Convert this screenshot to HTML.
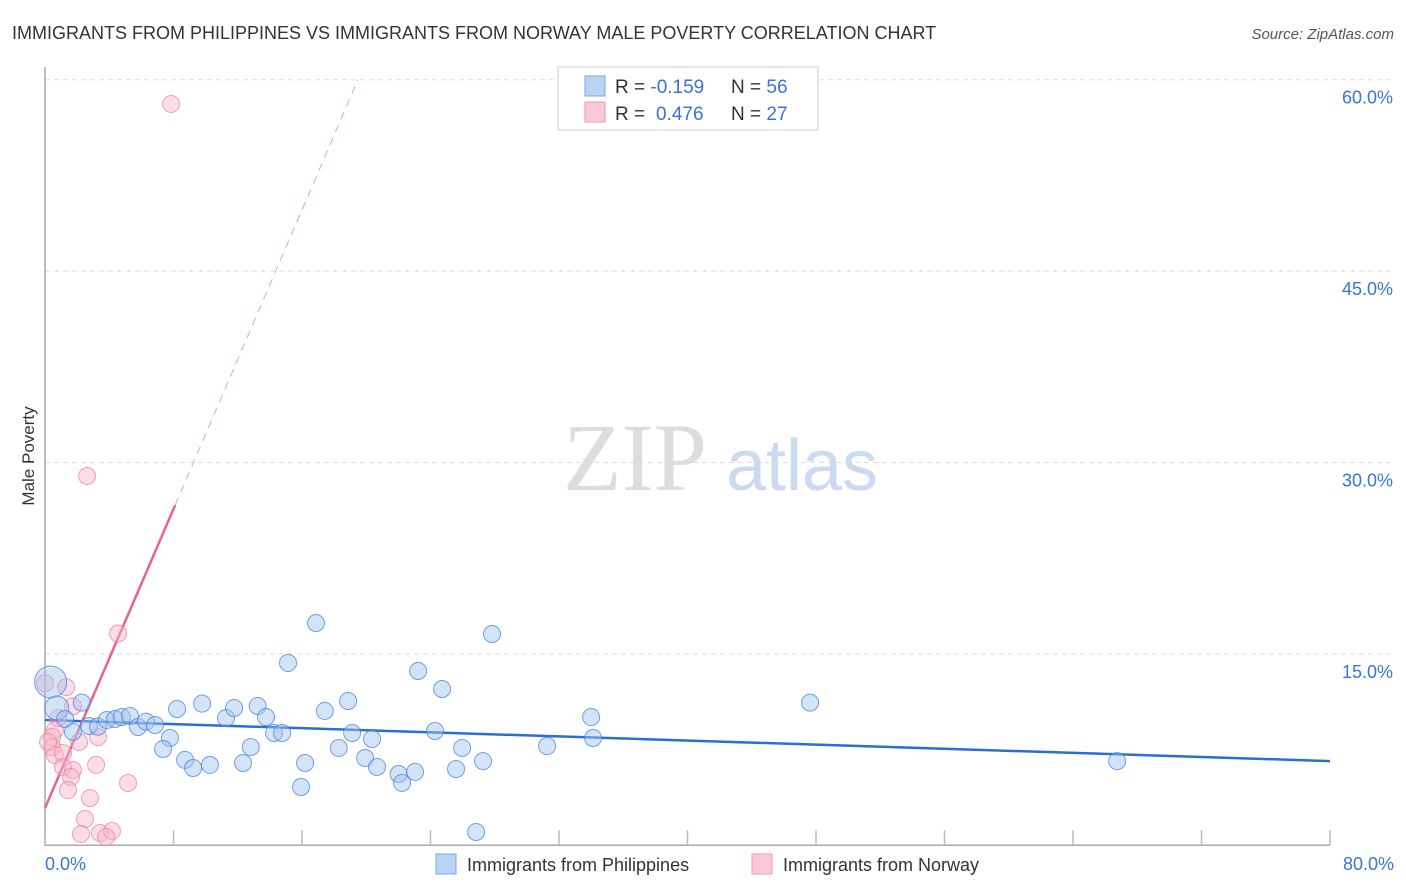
<!DOCTYPE html>
<html><head><meta charset="utf-8"><style>
body{margin:0;background:#fff;width:1406px;height:892px;overflow:hidden;font-family:"Liberation Sans",sans-serif}
</style></head><body>
<svg id="chart" width="1406" height="892" xmlns="http://www.w3.org/2000/svg" style="position:absolute;left:0;top:0">
<text x="12" y="39" font-size="18" fill="#333">IMMIGRANTS FROM PHILIPPINES VS IMMIGRANTS FROM NORWAY MALE POVERTY CORRELATION CHART</text>
<text x="1394" y="39" font-size="15" fill="#555" font-style="italic" text-anchor="end">Source: ZipAtlas.com</text>
<text transform="translate(34,456) rotate(-90)" font-size="17" fill="#333" text-anchor="middle">Male Poverty</text>
<g>
<text x="635" y="490" font-size="96" font-family="Liberation Serif,serif" fill="#ddd" text-anchor="middle">ZIP</text>
<text x="802" y="490" font-size="72" fill="#c9daf2" text-anchor="middle">atlas</text>
</g>
<g id="grid"></g><g id="axes"></g><g id="lines"></g><g id="pts"></g>
<g>
<rect x="558" y="67" width="260" height="63" fill="#fff" stroke="#ccc"/>
<rect x="585" y="76" width="20" height="20" fill="#b9d3f5" stroke="#7aa6e6"/>
<rect x="585" y="102" width="20" height="20" fill="#fcc8d7" stroke="#ee9ab3"/>
<text x="615" y="93" font-size="19" fill="#333">R = <tspan fill="#3a74d6">-0.159</tspan><tspan x="731">N = </tspan><tspan fill="#3a74d6">56</tspan></text>
<text x="615" y="120" font-size="19" fill="#333">R = <tspan fill="#3a74d6" x="656">0.476</tspan><tspan x="731">N = </tspan><tspan fill="#3a74d6">27</tspan></text>
</g>
<g>
<rect x="436" y="854" width="20" height="20" fill="#b9d3f5" stroke="#7aa6e6"/>
<text x="467" y="871" font-size="18" fill="#333">Immigrants from Philippines</text>
<rect x="752" y="854" width="20" height="20" fill="#fcc8d7" stroke="#ee9ab3"/>
<text x="783" y="871" font-size="18" fill="#333">Immigrants from Norway</text>
</g>
</svg>
<script>
const xTicks=[0,8,16,24,32,40,48,56,64,72,80];
const yTicks=[15,30,45,60];
const blueX=[0.35,0.73,2.29,1.25,1.74,2.74,3.3,3.84,4.36,4.78,5.29,5.79,6.29,6.85,7.78,7.35,8.22,8.72,9.22,10.27,9.78,11.27,11.77,12.33,12.81,13.24,13.76,14.26,14.76,15.13,16.87,16.19,15.94,17.42,18.29,18.87,19.12,20.36,19.93,20.67,22.02,22.23,23.04,23.23,24.28,24.72,25.97,25.59,26.84,27.27,27.83,31.26,34.0,34.12,47.63,66.75];
const blueY=[12.8,10.76,11.18,9.9,8.9,9.35,9.3,9.82,9.9,10.05,10.13,9.27,9.69,9.43,8.41,7.55,10.68,6.69,6.06,6.3,11.1,9.98,10.76,6.45,7.7,10.92,10.05,8.8,8.8,14.29,17.42,6.45,4.57,10.53,7.63,11.31,8.8,8.33,6.84,6.14,5.59,4.89,5.75,13.66,8.96,12.25,7.63,5.98,1.04,6.6,16.56,7.78,10.05,8.41,11.18,6.6];
const pinkX=[7.85,2.62,4.55,1.31,1.74,0.81,0.62,0.44,0.44,0.62,1.12,2.12,3.3,1.12,1.74,1.62,3.18,1.43,5.17,2.8,2.49,2.24,3.42,4.17,3.8,0,0.19];
const pinkY=[58.1,28.94,16.6,12.4,10.9,9.97,9.04,8.49,7.7,7.08,7.23,8.1,8.49,6.14,5.9,5.35,6.3,4.33,4.88,3.7,2.06,0.89,0.96,1.12,0.65,12.7,8.1];
const blueTrend=[9.82,6.6];
const pinkTrend=[2.92,2.93];
const X=v=>45+v*16.0625, Y=v=>845.3-v*12.76;
const NS='http://www.w3.org/2000/svg';
function mk(p,t,a){const e=document.createElementNS(NS,t);for(const k in a)e.setAttribute(k,a[k]);p.appendChild(e);return e;}
const grid=document.getElementById('grid'),axes=document.getElementById('axes'),lines=document.getElementById('lines'),pts=document.getElementById('pts');
yTicks.forEach(v=>{
 const l=mk(grid,'line',{x1:45,x2:1395,y1:Y(v),y2:Y(v),stroke:'#ddd','stroke-dasharray':'5,4'});
 
 
 const t=mk(grid,'text',{x:1393,y:Y(v)+24,'font-size':18,fill:'#3a74d6','text-anchor':'end'});
 t.textContent=v.toFixed(1)+'%';
 
 
});
const ax=mk(axes,'path',{d:`M45 67V${Y(0)}H${X(80)}`,stroke:'#aaa',fill:'none','stroke-width':1.5});


xTicks.forEach(v=>{
 const l=mk(axes,'line',{x1:X(v),x2:X(v),y1:Y(0),y2:Y(0)-15,stroke:'#bbb','stroke-width':1.5});
 
 
});
[[0,'start',45],[80,'end',1394]].forEach(([v,a,x])=>{
 const t=mk(axes,'text',{x:x,y:870,'font-size':18,fill:'#3a74d6','text-anchor':a});
 t.textContent=v.toFixed(1)+'%';
 
 
});
pinkX.forEach((x,i)=>{
 const c=mk(pts,'circle',{cx:X(x),cy:Y(pinkY[i]),r:8.5,fill:'rgba(248,180,200,0.45)',stroke:'rgba(235,130,160,0.75)','stroke-width':1});
 
 
});
blueX.forEach((x,i)=>{
 const r=i==0?16:(i==1?12:8.5);
 const c=mk(pts,'circle',{cx:X(x),cy:Y(blueY[i]),r:r,fill:'rgba(160,195,240,0.45)',stroke:'rgba(70,130,220,0.75)','stroke-width':1});
 
 
});
const bl=mk(lines,'line',{x1:X(0),y1:Y(blueTrend[0]),x2:X(80),y2:Y(blueTrend[1]),stroke:'#2a6fd6','stroke-width':2.5});


const pEnd=8.1, pTop=(60-pinkTrend[0])/pinkTrend[1];
const ps=mk(lines,'line',{x1:X(0),y1:Y(pinkTrend[0]),x2:X(pEnd),y2:Y(pinkTrend[0]+pinkTrend[1]*pEnd),stroke:'#e8648f','stroke-width':2.5});


const pd=mk(lines,'line',{x1:X(pEnd),y1:Y(pinkTrend[0]+pinkTrend[1]*pEnd),x2:X(pTop),y2:Y(60),stroke:'#eaa0b8','stroke-width':1,'stroke-dasharray':'8,6'});


</script>
</body></html>
